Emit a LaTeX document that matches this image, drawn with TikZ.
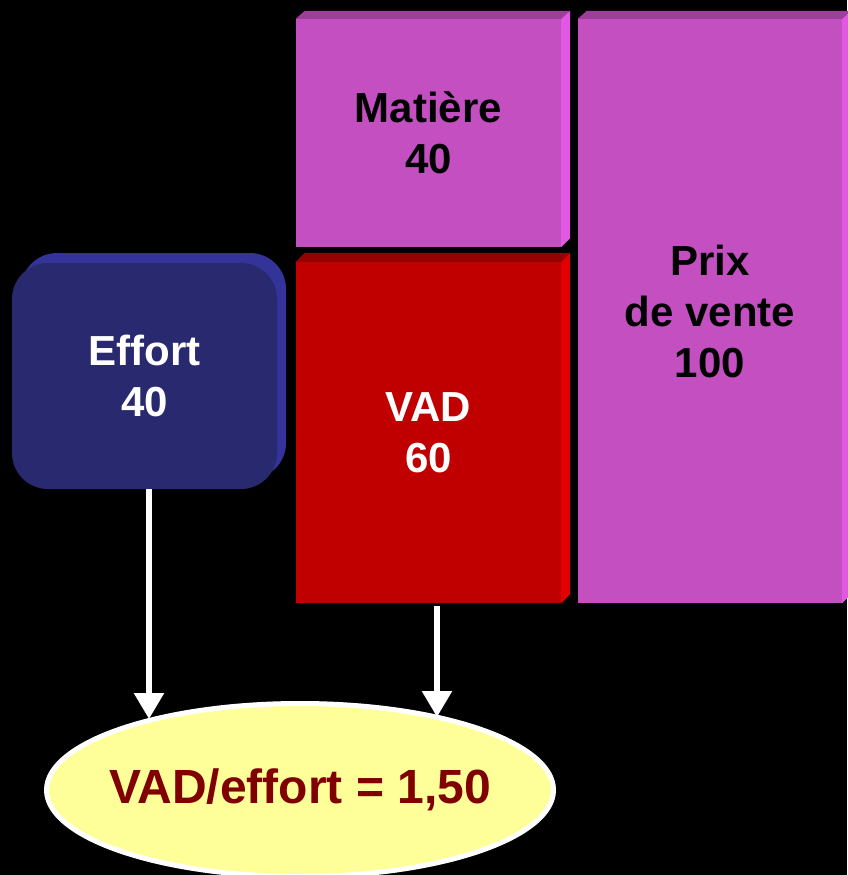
\documentclass[tikz,border=0pt]{standalone}
\usepackage{fontspec}
\setmainfont{Liberation Sans}
\usetikzlibrary{arrows.meta,shapes.geometric,calc}
\definecolor{magF}{RGB}{196,79,193}
\definecolor{magT}{RGB}{156,63,154}
\definecolor{magR}{RGB}{226,88,226}
\definecolor{redF}{RGB}{192,0,0}
\definecolor{redT}{RGB}{150,0,0}
\definecolor{redR}{RGB}{228,0,0}
\definecolor{navF}{RGB}{41,41,111}
\definecolor{navB}{RGB}{51,51,154}
\definecolor{ellF}{RGB}{255,255,153}
\definecolor{ellT}{RGB}{128,0,0}
\tikzset{
  facebox/.style={inner sep=0pt, align=center, font=\bfseries\fontsize{42}{51}\selectfont},
  whitearrow/.style={draw=white, line width=5.5pt, -{Triangle[width=29pt,length=26pt]}},
}
\begin{document}
\begin{tikzpicture}[x=1pt,y=-1pt]
\fill[black] (0,0) rectangle (847,875);
\useasboundingbox (0,0) rectangle (847,875);

% Matiere
\node[facebox, fill=magF, minimum width=265pt, minimum height=228pt, text=black] (mat) at (428.5,133) {Matière\\40};
\fill[magT] (mat.north west) -- ++(9,-8) -- ($(mat.north east)+(9,-8)$) -- (mat.north east) -- cycle;
\fill[magR] (mat.north east) -- ++(9,-8) -- ($(mat.south east)+(9,-9)$) -- (mat.south east) -- cycle;

% VAD
\node[facebox, fill=redF, minimum width=265pt, minimum height=341pt, text=white] (vad) at (428.5,432.5) {VAD\\60};
\fill[redT] (vad.north west) -- ++(9,-9) -- ($(vad.north east)+(9,-9)$) -- (vad.north east) -- cycle;
\fill[redR] (vad.north east) -- ++(9,-9) -- ($(vad.south east)+(9,-9)$) -- (vad.south east) -- cycle;

% Prix de vente
\node[facebox, fill=magF, minimum width=264pt, minimum height=584pt, text=black] (prix) at (710,311) {Prix\\de vente\\100};
\fill[magT] (prix.north west) -- ++(9,-8) -- ($(prix.north east)+(9,-8)$) -- (prix.north east) -- cycle;
\fill[magR] (prix.north east) -- ++(9,-8) -- ($(prix.south east)+(9,-9)$) -- (prix.south east) -- cycle;

% Effort
\fill[navB, rounded corners=36pt] (21,253) rectangle (286,479);
\node[facebox, fill=navF, rounded corners=36pt, minimum width=265pt, minimum height=226pt, text=white] (effort) at (144.5,376) {Effort\\40};

% Ellipse
\node[ellipse, draw=white, line width=5pt, fill=ellF, minimum width=507pt, minimum height=173pt, inner sep=0pt,
      text=ellT, font=\bfseries\fontsize{48}{56}\selectfont] (ratio) at (300,790) {\makebox[0pt]{\raisebox{-2pt}{VAD/effort = 1,50}}};

% Arrows
\coordinate (aL) at (149,719);
\coordinate (aR) at (437,717);
\draw[whitearrow] (effort.south -| aL) -- (aL);
\draw[whitearrow, shorten <=3pt] (vad.south -| aR) -- (aR);
\end{tikzpicture}
\end{document}
